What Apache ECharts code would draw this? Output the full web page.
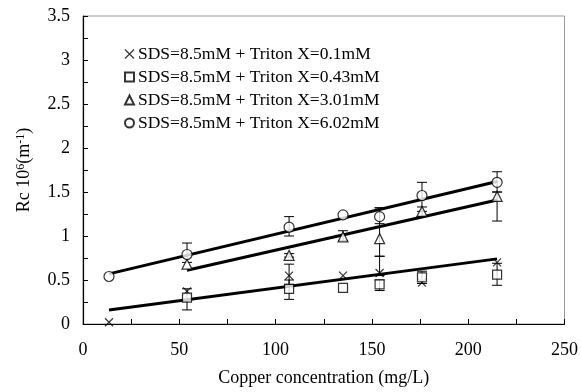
<!DOCTYPE html>
<html><head><meta charset="utf-8">
<script src="https://cdn.jsdelivr.net/npm/echarts@6/dist/echarts.min.js"></script>
<style>html,body{margin:0;padding:0;background:#fff}#c{width:581px;height:392px}</style>
</head><body><div id="c"></div>
<script>
const seriesNames = ['SDS=8.5mM + Triton X=0.1mM','SDS=8.5mM + Triton X=0.43mM','SDS=8.5mM + Triton X=3.01mM','SDS=8.5mM + Triton X=6.02mM'];
const xCross = [13.5, 54, 107, 135, 154, 176, 215];
const yCross = [0.02, 0.37, 0.55, 0.55, 0.58, 0.47, 0.70];
const errCrossLow = [null, null, 0.45, null, 0.55, null, null];
const errCrossHigh = [null, null, 0.68, null, 0.77, null, null];
const xSquare = [54, 107, 135, 154, 176, 215];
const ySquare = [0.30, 0.40, 0.41, 0.45, 0.53, 0.56];
const errSquareLow = [0.16, 0.28, null, 0.38, 0.46, 0.44];
const errSquareHigh = [0.40, 0.50, null, 0.50, 0.60, 0.69];
const xTri = [54, 107, 135, 154, 176, 215];
const yTri = [0.68, 0.78, 0.99, 0.97, 1.28, 1.45];
const errTriLow = [null, 0.76, 0.95, 0.77, 1.22, 1.17];
const errTriHigh = [null, 0.80, 1.06, 1.32, 1.33, 1.50];
const xCirc = [13.5, 54, 107, 135, 154, 176, 215];
const yCirc = [0.54, 0.79, 1.10, 1.24, 1.22, 1.46, 1.61];
const errCircLow = [null, 0.70, 1.00, null, 1.14, 1.28, 1.50];
const errCircHigh = [null, 0.92, 1.22, null, 1.32, 1.61, 1.73];
// trend line endpoints [x0, y0, x1, y1]
const trendLow = [13.5, 0.16, 215, 0.74];
const trendTri = [54, 0.61, 215, 1.41];
const trendCirc = [13.5, 0.57, 215, 1.62];
const xTickLabels = ['0','50','100','150','200','250'];
const yTickLabels = ['0','0.5','1','1.5','2','2.5','3','3.5'];

const crossPath = 'path://M0,0L10,10M10,0L0,10';
const font = 'Liberation Serif';
const fs = 18;

function pts(xs, ys){ return xs.map((x,i)=>[x, ys[i]]); }
function errData(xs, lo, hi){ const d=[]; xs.forEach((x,i)=>{ if(lo[i]!=null) d.push([x, lo[i], hi[i]]); }); return d; }
function errSeries(data){
  return {type:'custom', silent:true, z:3, data:data, encode:{x:0,y:[1,2]},
    renderItem:function(params, api){
      const x=api.value(0), lo=api.coord([x, api.value(1)]), hi=api.coord([x, api.value(2)]);
      const w=5, st={stroke:'#000', lineWidth:1};
      return {type:'group', children:[
        {type:'line', shape:{x1:lo[0],y1:lo[1],x2:hi[0],y2:hi[1]}, style:st},
        {type:'line', shape:{x1:lo[0]-w,y1:lo[1],x2:lo[0]+w,y2:lo[1]}, style:st},
        {type:'line', shape:{x1:hi[0]-w,y1:hi[1],x2:hi[0]+w,y2:hi[1]}, style:st}
      ]};
    }};
}
function trend(t){ return {type:'line', silent:true, z:4, symbol:'none', data:[[t[0],t[1]],[t[2],t[3]]], lineStyle:{color:'#000', width:3}}; }
const mk = {color:'#fff', borderColor:'#000', borderWidth:1.2};

const chart = echarts.init(document.getElementById('c'));
chart.setOption({
  animation:false,
  textStyle:{fontFamily:font},
  grid:{left:83, right:13, top:16, bottom:68, show:true, borderColor:'#999', borderWidth:1},
  legend:{
    orient:'vertical', left:119, top:40, itemGap:5, itemWidth:9, itemHeight:9,
    textStyle:{fontFamily:font, fontSize:17.5, color:'#000', padding:[0,0,0,-1]},
    data:[
      {name:seriesNames[0], icon:crossPath, itemStyle:{color:'transparent', borderColor:'#000', borderWidth:1.2}},
      {name:seriesNames[1], icon:'rect'},
      {name:seriesNames[2], icon:'triangle'},
      {name:seriesNames[3], icon:'circle'}
    ]
  },
  xAxis:{type:'value', min:0, max:250, interval:25,
    name:'Copper concentration (mg/L)', nameLocation:'middle', nameGap:45,
    nameTextStyle:{fontFamily:font, fontSize:fs, color:'#000'},
    axisLine:{lineStyle:{color:'#000', width:1.2}},
    axisTick:{inside:true, length:5, lineStyle:{color:'#000'}},
    splitLine:{show:false},
    axisLabel:{fontFamily:font, fontSize:fs, color:'#000', margin:17,
      formatter:v=> (v%50===0? xTickLabels[v/50] : '')}
  },
  yAxis:{type:'value', min:0, max:3.5, interval:0.25,
    name:'{n|Rc 10}{s|6}{n|(m}{s|-1}{n|)}', nameLocation:'middle', nameGap:50, nameRotate:90,
    nameTextStyle:{fontFamily:font, fontSize:fs, color:'#000',
      rich:{n:{fontFamily:font, fontSize:fs, color:'#000'}, s:{fontFamily:font, fontSize:12, color:'#000', verticalAlign:'top', lineHeight:14}}},
    axisLine:{show:true, lineStyle:{color:'#000', width:1.2}},
    axisTick:{show:true, inside:true, length:5, lineStyle:{color:'#000'}},
    splitLine:{show:false},
    axisLabel:{fontFamily:font, fontSize:fs, color:'#000', margin:13,
      formatter:v=>{ const k=Math.round(v*4); return k%2===0 ? yTickLabels[k/2] : ''; }}
  },
  series:[
    errSeries(errData(xCross, errCrossLow, errCrossHigh)),
    errSeries(errData(xSquare, errSquareLow, errSquareHigh)),
    errSeries(errData(xTri, errTriLow, errTriHigh)),
    errSeries(errData(xCirc, errCircLow, errCircHigh)),
    trend(trendLow), trend(trendTri), trend(trendCirc),
    {name:seriesNames[0], type:'scatter', z:5, symbol:crossPath, symbolSize:8, data:pts(xCross,yCross), itemStyle:{color:'transparent', borderColor:'#000', borderWidth:1.2}},
    {name:seriesNames[1], type:'scatter', z:5, symbol:'rect', symbolSize:9, data:pts(xSquare,ySquare), itemStyle:mk},
    {name:seriesNames[2], type:'scatter', z:5, symbol:'triangle', symbolSize:10, data:pts(xTri,yTri), itemStyle:mk},
    {name:seriesNames[3], type:'scatter', z:5, symbol:'circle', symbolSize:10, data:pts(xCirc,yCirc), itemStyle:mk}
  ]
});
</script></body></html>
